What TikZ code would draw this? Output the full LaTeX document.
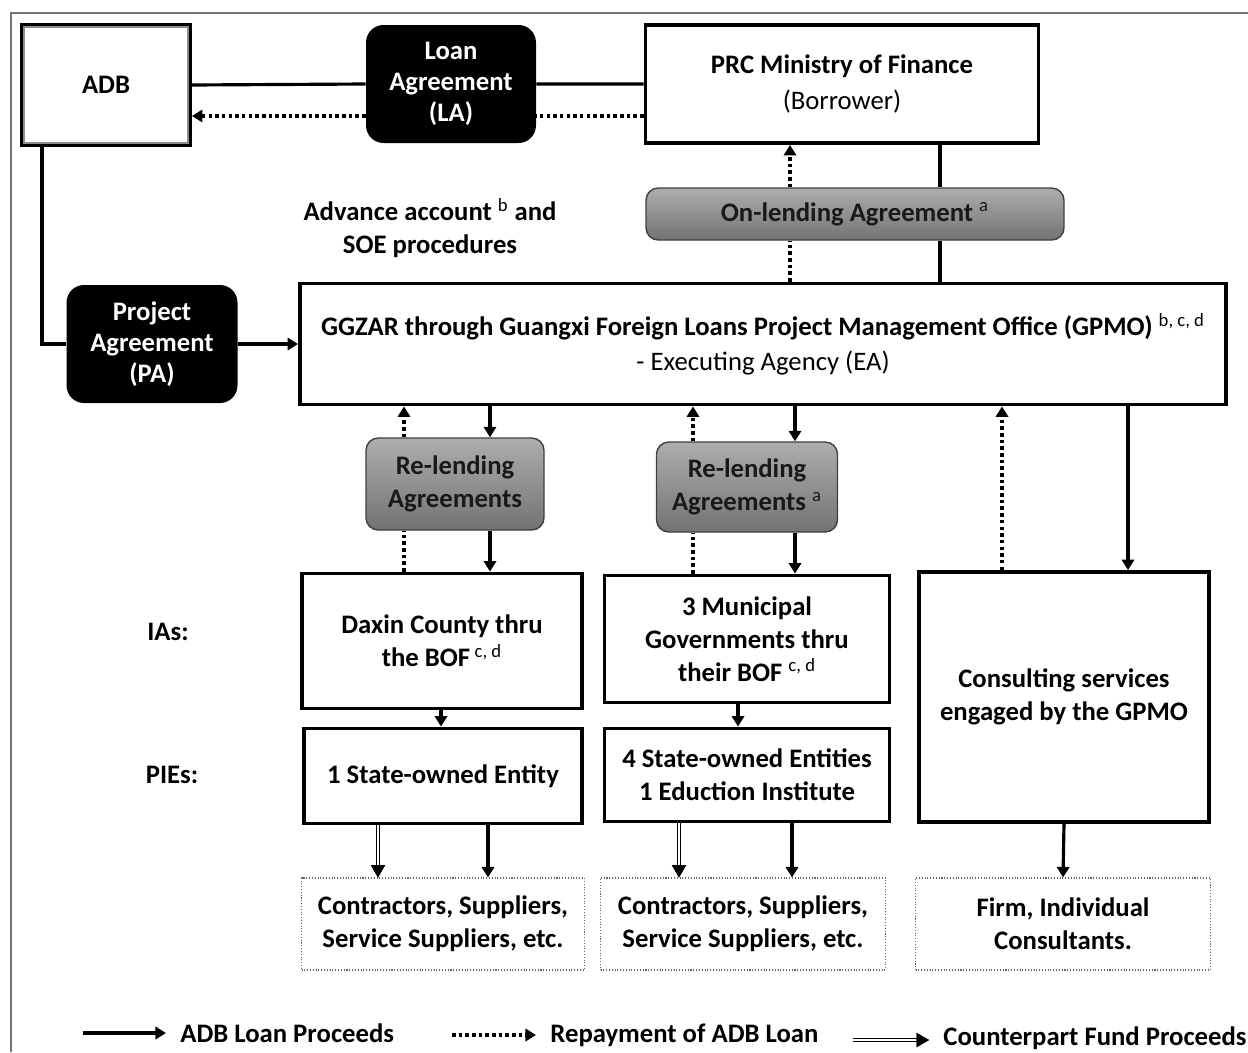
\documentclass[tikz,border=0pt]{standalone}
\usepackage{fontspec}
\setmainfont{Carlito}
\usetikzlibrary{arrows.meta}
\newcommand\fn[1]{\textsuperscript{\mdseries#1}}
\begin{document}
\begin{tikzpicture}[x=0.02cm,y=-0.02cm,font=\fontsize{15.2}{18.7}\selectfont\bfseries,
	>={Triangle[width=7pt,length=6pt]},
	wh/.style 2 args={minimum width=#1*0.02cm,minimum height=#2*0.02cm,inner sep=0pt},
	box/.style={draw,line width=2.2pt,align=center,fill=white},
	agr/.style={fill=black,rounded corners=10pt,text=white,align=center,font=\fontsize{15.2}{17.5}\selectfont\bfseries},
	grey/.style={draw=black!75,line width=0.8pt,rounded corners=7pt,top color=black!32,bottom color=black!55,text=black!90,align=center},
	ctrbox/.style={draw=black!60,densely dotted,line width=0.6pt,align=center},
	proc/.style={line width=1.8pt},
	repay/.style={line width=1.8pt,dash pattern=on 2pt off 1.8pt},
	cfund/.style={double,double distance=1.4pt,line width=0.6pt,shorten >=6pt},
	cftip/.style={line width=0.6pt,-{Triangle[width=8pt,length=7pt]}},
	key/.style={anchor=west,inner xsep=8pt}]
	\fill[white] (0,0) rectangle (1248,1052);
	\useasboundingbox (0,0) rectangle (1248,1052);
	\draw[black!55,line width=0.7pt] (1248,13) -- (11,13) -- (11,1052);
	% top row
	\node[box,wh={168}{120}] (adb) at (106,85) {ADB};
	\draw[black!45,line width=1pt] ([shift={(4,-4)}]adb.south west) rectangle ([shift={(-4,4)}]adb.north east);
	\node[agr,wh={170}{118}] (la) at (451,84) {Loan\\Agreement\\(LA)};
	\node[box,wh={393}{118}] (mof) at (842,84) {PRC Ministry of Finance\\[2pt]{\mdseries(Borrower)}};
	\node[grey,wh={418}{52}] (onl) at (855,214) {On-lending Agreement \fn{a}};
	\node[align=center] (adv) at (430,228) {Advance account \fn{b} and\\SOE procedures};
	% executing agency
	\node[agr,wh={171}{118}] (pa) at (152,344) {Project\\Agreement\\(PA)};
	\node[box,wh={926}{121}] (ea) at (763,344) {GGZAR through Guangxi Foreign Loans Project Management Office (GPMO) \fn{b, c, d}\\[1pt]{\mdseries - Executing Agency (EA)}};
	\node[grey,wh={178}{92}] (rl1) at (455,484) {Re-lending\\Agreements};
	\node[grey,wh={181}{90}] (rl2) at (747,487) {Re-lending\\Agreements \fn{a}};
	% implementing agencies
	\node (ias) at (168,632) {IAs:};
	\node (pies) at (172,775) {PIEs:};
	\node[box,wh={280}{135}] (ia1) at (442,641) {Daxin County thru\\the BOF\,\fn{c, d}};
	\node[box,wh={285}{127}] (ia2) at (747,639) {3 Municipal\\Governments thru\\their BOF \fn{c, d}};
	\node[box,wh={290}{250}] (cs) at (1064,697) {Consulting services\\engaged by the GPMO};
	\node[box,wh={278}{95}] (pie1) at (443,776) {1 State-owned Entity};
	\node[box,wh={285}{93}] (pie2) at (747,775) {4 State-owned Entities\\1 Eduction Institute};
	\node[ctrbox,wh={283}{92}] (ctr1) at (443,924) {Contractors, Suppliers,\\Service Suppliers, etc.};
	\node[ctrbox,wh={285}{92}] (ctr2) at (743,924) {Contractors, Suppliers,\\Service Suppliers, etc.};
	\node[ctrbox,wh={295}{92}] (ctr3) at (1063,924) {Firm, Individual\\Consultants.};
	% columns of the connectors
	\path (0,116) coordinate (q0) (42,0) coordinate (a0) (790,0) coordinate (d0) (940,0) coordinate (s0)
		(404,0) coordinate (r1) (490,0) coordinate (p1) (693,0) coordinate (r2) (795,0) coordinate (p2)
		(1002,0) coordinate (r3) (1128,0) coordinate (p3) (441,0) coordinate (m1) (738,0) coordinate (m2)
		(378,0) coordinate (c1) (488,0) coordinate (e1) (679,0) coordinate (c2) (792,0) coordinate (e2);
	\draw[proc] (adb.east) -- (la.west) (la.east) -- (mof.west);
	\draw[repay] (mof.west |- q0) -- (la.east |- q0);
	\draw[repay,->] (la.west |- q0) -- (adb.east |- q0);
	\draw[repay] (ea.north -| d0) -- (onl.south -| d0);
	\draw[repay,->] (onl.north -| d0) -- (mof.south -| d0);
	\draw[proc] (mof.south -| s0) -- (onl.north -| s0) (onl.south -| s0) -- (ea.north -| s0);
	\draw[proc] (adb.south -| a0) |- (pa.west);
	\draw[proc,->] (pa.east) -- (ea.west);
	\foreach \n in {1,2}{
		\draw[repay,->] (rl\n.north -| r\n) -- (ea.south -| r\n);
		\draw[repay] (ia\n.north -| r\n) -- (rl\n.south -| r\n);
		\draw[proc,->] (ea.south -| p\n) -- (rl\n.north -| p\n);
		\draw[proc,->] (rl\n.south -| p\n) -- (ia\n.north -| p\n);
		\draw[proc,->] (ia\n.south -| m\n) -- (pie\n.north -| m\n);
		\path (ctr\n.north -| c\n) coordinate (f\n);
		\draw[cfund] (pie\n.south -| c\n) -- (f\n);
		\draw[cftip] ([yshift=7pt]f\n) -- (f\n);
		\fill (f\n) -- ([shift={(-4pt,7pt)}]f\n) -- ([shift={(4pt,7pt)}]f\n) -- cycle;
		\draw[proc,->] (pie\n.south -| e\n) -- (ctr\n.north -| e\n);
	}
	\draw[repay,->] (cs.north -| r3) -- (ea.south -| r3);
	\draw[proc,->] (ea.south -| p3) -- (cs.north -| p3);
	\draw[proc,->] (cs.south) -- (ctr3.north);
	% legend
	\path (83,1033) coordinate (k1) (452,1035) coordinate (k2) (853,1040) coordinate (k3);
	\node[key] (t1) at (166,1033) {ADB Loan Proceeds};
	\node[key] (t2) at (536,1035) {Repayment of ADB Loan};
	\node[key] (t3) at (929,1038) {Counterpart Fund Proceeds};
	\draw[proc,line width=2.4pt,->] (k1) -- (t1.west);
	\draw[repay,->] (k2) -- (t2.west);
	\path (t3.west |- k3) coordinate (f3);
	\draw[cfund] (k3) -- (f3);
	\draw[cftip] ([xshift=-7pt]f3) -- (f3);
	\fill (f3) -- ([shift={(-7pt,4pt)}]f3) -- ([shift={(-7pt,-4pt)}]f3) -- cycle;
\end{tikzpicture}
\end{document}
